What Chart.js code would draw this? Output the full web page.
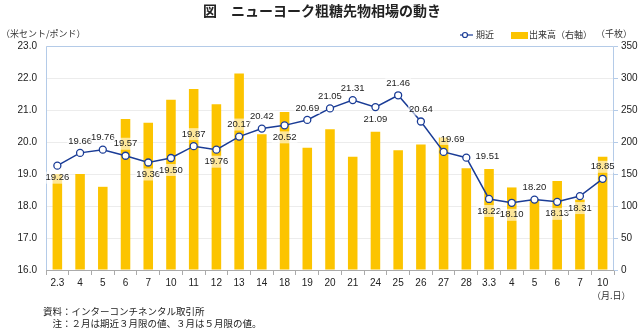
<!DOCTYPE html>
<html>
<head>
<meta charset="utf-8">
<script src="https://cdn.jsdelivr.net/npm/chart.js@4"></script>
<style>
  html, body { margin: 0; padding: 0; background: #fff; }
  #wrap { position: relative; width: 640px; height: 328px; }
</style>
</head>
<body>
<div id="wrap"><canvas id="c" width="640" height="328"></canvas></div>
<script>
// データ
var days = ["2.3","4","5","6","7","10","11","12","13","14","18","19","20","21","24","25","26","27","28","3.3","4","5","6","7","10"];
var nearby = [19.26,19.66,19.76,19.57,19.36,19.50,19.87,19.76,20.17,20.42,20.52,20.69,21.05,21.31,21.09,21.46,20.64,19.69,19.51,18.22,18.10,18.20,18.13,18.31,18.85];
var volume = [150,150,130,236,230,266,283,259,307,212,247,191,220,177,216,187,196,207,159,158,129,110,139,110,177];
var priceTicks = [16,17,18,19,20,21,22,23];
var volTicks = [0,50,100,150,200,250,300,350];
// ラベル位置 (a=上, b=下, r=右)
var labelPos = ["b","a","a","a","b","b","a","b","a","a","b","a","a","a","b","a","a","a","r","b","b","a","b","b","a"];

var FONT = '"Liberation Sans", "Noto Sans CJK JP", sans-serif';
var JP = '"Noto Sans CJK JP", sans-serif';

var extras = {
  id: 'extras',
  afterDraw: function(chart) {
    var ctx = chart.ctx, a = chart.chartArea;
    ctx.save();
    // 枠
    ctx.strokeStyle = '#b4cbe8';
    ctx.lineWidth = 1;
    ctx.beginPath();
    ctx.moveTo(a.left + 0.5, a.bottom);
    ctx.lineTo(a.left + 0.5, a.top + 0.5);
    ctx.lineTo(a.right - 0.5, a.top + 0.5);
    ctx.lineTo(a.right - 0.5, a.bottom);
    ctx.stroke();
    ctx.strokeStyle = '#aaaaaa';
    ctx.beginPath();
    ctx.moveTo(a.left, a.bottom + 0.5);
    ctx.lineTo(a.right, a.bottom + 0.5);
    ctx.stroke();

    // 値ラベル
    var meta = chart.getDatasetMeta(0);
    ctx.font = '9.5px ' + FONT;
    ctx.textAlign = 'center';
    ctx.textBaseline = 'middle';
    meta.data.forEach(function(pt, i) {
      var txt = nearby[i].toFixed(2);
      var x = pt.x, y = pt.y;
      var p = labelPos[i];
      if (p === 'a') { y -= 12; }
      else if (p === 'b') { y += 12; }
      else { x += 21; y -= 1; }
      if (i === 17) { x += 9; y -= 1; }
      var w = ctx.measureText(txt).width;
      ctx.fillStyle = 'rgba(255,255,255,0.6)';
      ctx.fillRect(x - w / 2 - 1, y - 6, w + 2, 12);
      ctx.fillStyle = '#222';
      ctx.fillText(txt, x, y);
    });

    // 軸タイトル・凡例
    ctx.font = '9px ' + JP;
    ctx.fillStyle = '#333';
    ctx.textBaseline = 'middle';
    ctx.textAlign = 'left';
    ctx.fillText('（米セント/ポンド）', 1, 34);
    ctx.fillText('（千枚）', 596, 34);
    ctx.fillText('（月.日）', 592, 296);
    ctx.fillText('期近', 476, 35);
    ctx.fillText('出来高（右軸）', 529, 35);
    ctx.strokeStyle = '#1a3c96';
    ctx.lineWidth = 1.2;
    ctx.beginPath();
    ctx.moveTo(460, 35);
    ctx.lineTo(473, 35);
    ctx.stroke();
    ctx.fillStyle = '#fff';
    ctx.beginPath();
    ctx.arc(465, 35, 2.5, 0, Math.PI * 2);
    ctx.fill();
    ctx.stroke();
    ctx.fillStyle = '#fcc400';
    ctx.fillRect(511, 32, 17, 7);

    // タイトル
    ctx.font = 'bold 14px ' + JP;
    ctx.fillStyle = '#222';
    ctx.textAlign = 'center';
    ctx.fillText('図　ニューヨーク粗糖先物相場の動き', 322, 11);

    // 注記
    ctx.font = '9.5px ' + JP;
    ctx.textAlign = 'left';
    ctx.fillStyle = '#222';
    ctx.fillText('資料：インターコンチネンタル取引所', 43, 311);
    ctx.fillText('　注：２月は期近３月限の値、３月は５月限の値。', 43, 323);
    ctx.restore();
  }
};

new Chart(document.getElementById('c'), {
  type: 'bar',
  data: {
    labels: days,
    datasets: [
      {
        type: 'line',
        label: '期近',
        data: nearby,
        yAxisID: 'y',
        borderColor: '#1a3c96',
        borderWidth: 1.5,
        pointBackgroundColor: '#fff',
        pointBorderColor: '#1a3c96',
        pointBorderWidth: 1.3,
        pointRadius: 3.5,
        tension: 0,
        order: 0
      },
      {
        type: 'bar',
        label: '出来高（右軸）',
        data: volume,
        yAxisID: 'y1',
        backgroundColor: '#fcc400',
        barPercentage: 0.42,
        categoryPercentage: 1,
        order: 1
      }
    ]
  },
  options: {
    responsive: false,
    animation: false,
    layout: { padding: { top: 46, left: 0, right: 0, bottom: 0 } },
    plugins: { legend: { display: false }, tooltip: { enabled: false } },
    scales: {
      x: {
        offset: true,
        grid: { drawOnChartArea: false, drawTicks: true, tickLength: 5, color: '#aaa', offset: true },
        border: { display: false },
        ticks: { color: '#222', font: { size: 10, family: FONT }, padding: 2, maxRotation: 0, autoSkip: false },
        afterFit: function(s) { s.height = 58; }
      },
      y: {
        position: 'left',
        min: 16, max: 23,
        afterBuildTicks: function(s) { s.ticks = priceTicks.map(function(v) { return { value: v }; }); },
        grid: { color: '#ececec', drawTicks: false },
        border: { display: false },
        ticks: { color: '#222', font: { size: 10, family: FONT }, padding: 9, callback: function(v) { return v.toFixed(1); } },
        afterFit: function(s) { s.width = 46; }
      },
      y1: {
        position: 'right',
        min: 0, max: 350,
        afterBuildTicks: function(s) { s.ticks = volTicks.map(function(v) { return { value: v }; }); },
        grid: { drawOnChartArea: false, drawTicks: true, tickLength: 4, color: '#b4cbe8' },
        border: { display: false },
        ticks: { color: '#222', font: { size: 10, family: FONT }, padding: 3 },
        afterFit: function(s) { s.width = 26; }
      }
    }
  },
  plugins: [extras]
});
</script>
</body>
</html>
